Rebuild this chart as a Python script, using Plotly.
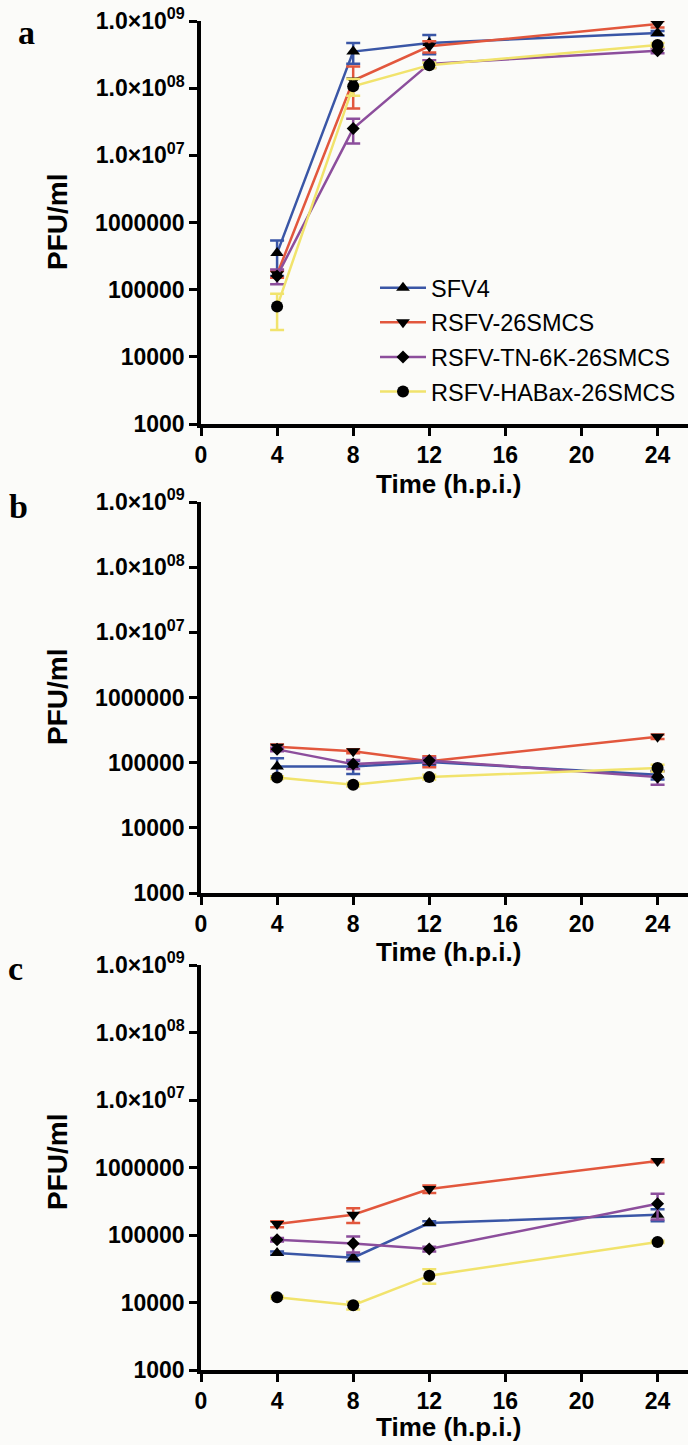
import plotly.graph_objects as go

# ---------------- data ----------------
time_hpi = [4, 8, 12, 24]
series_names = ["SFV4", "RSFV-26SMCS", "RSFV-TN-6K-26SMCS", "RSFV-HABax-26SMCS"]

# panel a
a_sfv4 = [3.5e5, 3.5e8, 4.7e8, 6.6e8]
a_sfv4_sd = [1.9e5, 1.2e8, 1.5e8, 5e7]
a_rsfv = [1.7e5, 1.3e8, 4.2e8, 9.0e8]
a_rsfv_sd = [2e4, 8e7, 8e7, 1e8]
a_tn6k = [1.6e5, 2.5e7, 2.3e8, 3.6e8]
a_tn6k_sd = [4e4, 1e7, 3e7, 3e7]
a_habax = [5.6e4, 1.07e8, 2.2e8, 4.4e8]
a_habax_sd = [3.1e4, 3e7, 2e7, 3e7]

# panel b
b_sfv4 = [8.7e4, 8.7e4, 1.02e5, 6.5e4]
b_sfv4_sd = [3e4, 2e4, 1e4, 1e4]
b_rsfv = [1.75e5, 1.5e5, 1.05e5, 2.5e5]
b_rsfv_sd = [1.5e4, 1e4, 2e4, 2e4]
b_tn6k = [1.6e5, 9.5e4, 1.08e5, 6.0e4]
b_tn6k_sd = [1e4, 1.5e4, 1e4, 1.4e4]
b_habax = [5.9e4, 4.6e4, 6.0e4, 8.3e4]
b_habax_sd = [3e3, 3e3, 5e3, 1e4]

# panel c
c_sfv4 = [5.4e4, 4.6e4, 1.5e5, 2.0e5]
c_sfv4_sd = [3e3, 5e3, 1e4, 4e4]
c_rsfv = [1.45e5, 2.0e5, 4.8e5, 1.25e6]
c_rsfv_sd = [1.5e4, 5e4, 6e4, 5e4]
c_tn6k = [8.5e4, 7.5e4, 6.2e4, 2.9e5]
c_tn6k_sd = [5e3, 2e4, 5e3, 1.2e5]
c_habax = [1.2e4, 9.1e3, 2.5e4, 7.9e4]
c_habax_sd = [5e2, 1.2e3, 6e3, 3e3]

y_tickvals = [1e3, 1e4, 1e5, 1e6, 1e7, 1e8, 1e9]
y_ticktext = ["1000", "10000", "100000", "1000000",
              "1.0×10<sup>07</sup>", "1.0×10<sup>08</sup>", "1.0×10<sup>09</sup>"]
x_tickvals = [0, 4, 8, 12, 16, 20, 24]
panel_letters = ["a", "b", "c"]
x_title = "Time (h.p.i.)"
y_title = "PFU/ml"

# ---------------- style ----------------
colors = ["#3a56a6", "#e2573d", "#8c4e9c", "#f1e36c"]
symbols = ["triangle-up", "triangle-down", "diamond", "circle"]
msizes = [12, 12, 10, 12]
SANS = "Liberation Sans, Arial, Helvetica, sans-serif"
SERIF = "Liberation Serif, Times New Roman, serif"

W, H = 688, 1445


def px_x(px):
    return px / W


def px_y(py):
    return 1 - py / H


panels = [
    [(a_sfv4, a_sfv4_sd), (a_rsfv, a_rsfv_sd), (a_tn6k, a_tn6k_sd), (a_habax, a_habax_sd)],
    [(b_sfv4, b_sfv4_sd), (b_rsfv, b_rsfv_sd), (b_tn6k, b_tn6k_sd), (b_habax, b_habax_sd)],
    [(c_sfv4, c_sfv4_sd), (c_rsfv, c_rsfv_sd), (c_tn6k, c_tn6k_sd), (c_habax, c_habax_sd)],
]

# pixel layout of each panel (top, bottom of y axis)
panel_px = [(21, 424), (502, 893), (965, 1370)]
xtitle_px = [484, 952, 1427]
ytitle_px = [222, 697, 1162]
letter_px = [(26, 32), (18, 506), (15, 969)]

fig = go.Figure()

for p, series in enumerate(panels):
    xa = "x" if p == 0 else f"x{p+1}"
    ya = "y" if p == 0 else f"y{p+1}"
    for i, (vals, sd) in enumerate(series):
        fig.add_trace(go.Scatter(
            x=time_hpi, y=vals, name=series_names[i],
            xaxis=xa, yaxis=ya, mode="lines+markers",
            line=dict(color=colors[i], width=2.5),
            marker=dict(symbol=symbols[i], size=msizes[i], color="black"),
            error_y=dict(type="data", array=sd, visible=True,
                         color=colors[i], thickness=2.5, width=7),
            showlegend=(p == 0), legendgroup=f"g{i}",
        ))

axis_common = dict(showline=True, linecolor="black", linewidth=3.5,
                   ticks="outside", tickcolor="black", tickwidth=3, ticklen=8,
                   showgrid=False, zeroline=False, automargin=False,
                   ticklabeloverflow="allow")

layout = dict(
    width=W, height=H, margin=dict(l=0, r=0, t=0, b=0, pad=0),
    paper_bgcolor="#fbfbf9", plot_bgcolor="rgba(0,0,0,0)",
    font=dict(family=SANS, color="black"),
    legend=dict(x=px_x(375), y=px_y(266), xanchor="left", yanchor="top",
                font=dict(family=SANS, size=23.5, color="black"),
                bgcolor="rgba(0,0,0,0)", itemwidth=46, tracegroupgap=1),
)

annotations = []
for p in range(3):
    top, bot = panel_px[p]
    sfx = "" if p == 0 else str(p + 1)
    layout[f"xaxis{sfx}"] = dict(axis_common, domain=[px_x(201), 1.0], range=[0, 25.6],
                                 tickvals=x_tickvals, anchor=f"y{sfx}",
                                 tickfont=dict(family=SANS, size=23, weight="bold"))
    layout[f"yaxis{sfx}"] = dict(axis_common, type="log", range=[3, 9],
                                 domain=[px_y(bot), px_y(top)], anchor=f"x{sfx}",
                                 tickvals=y_tickvals, ticktext=y_ticktext,
                                 tickfont=dict(family=SANS, size=23, weight="bold"))
    annotations.append(dict(text=f"<b>{x_title}</b>", x=px_x(448), y=px_y(xtitle_px[p]),
                            xref="paper", yref="paper", showarrow=False,
                            xanchor="center", yanchor="middle",
                            font=dict(family=SANS, size=26, color="black")))
    annotations.append(dict(text=f"<b>{y_title}</b>", x=px_x(57), y=px_y(ytitle_px[p]),
                            xref="paper", yref="paper", showarrow=False, textangle=-90,
                            xanchor="center", yanchor="middle",
                            font=dict(family=SANS, size=28, color="black")))
    lx, ly = letter_px[p]
    annotations.append(dict(text=f"<b>{panel_letters[p]}</b>", x=px_x(lx), y=px_y(ly),
                            xref="paper", yref="paper", showarrow=False,
                            xanchor="center", yanchor="middle",
                            font=dict(family=SERIF, size=34, color="black")))

layout["annotations"] = annotations
fig.update_layout(**layout)
# remove the browser's default 8px body margin so the figure fills the window
fig.write_html("out.html", config={"displayModeBar": False},
               post_script="document.body.style.margin='0';")
